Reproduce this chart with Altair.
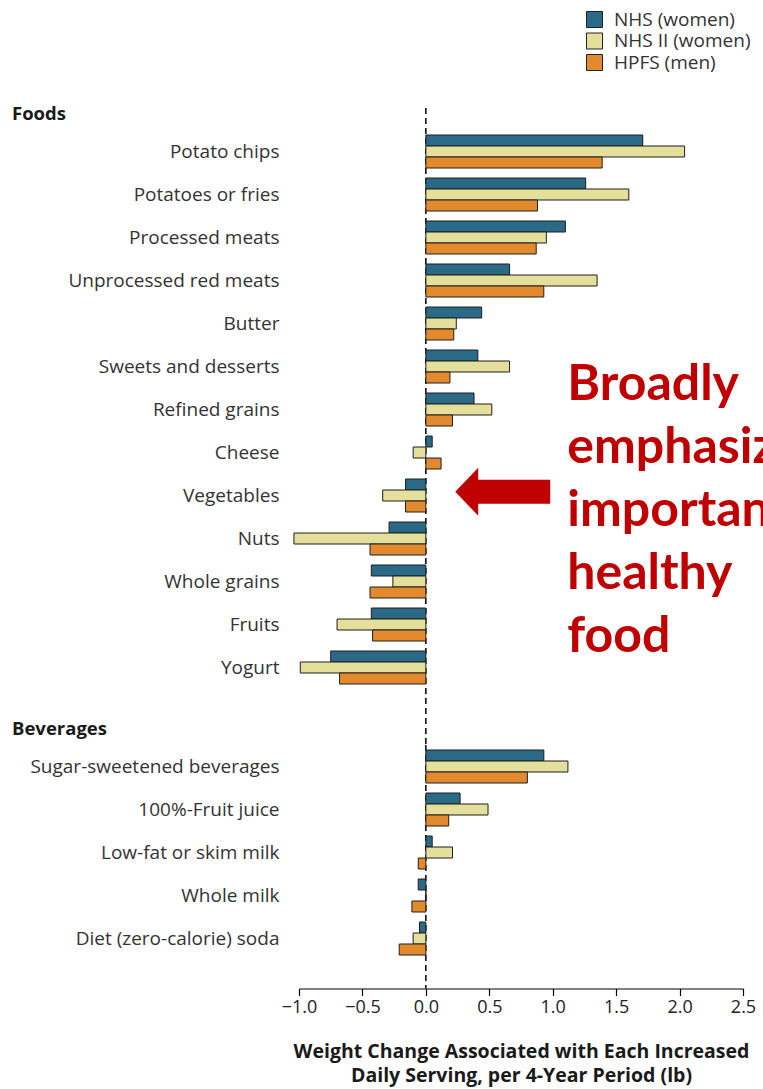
import altair as alt
import pandas as pd

# Cohorts and their bar colours
series = ["NHS (women)", "NHS II (women)", "HPFS (men)"]
colors = ["#2b6a87", "#e5df9c", "#e38a2f"]

# Foods: weight change (lb) per increased daily serving, per 4-year period
foods = ["Potato chips", "Potatoes or fries", "Processed meats", "Unprocessed red meats",
         "Butter", "Sweets and desserts", "Refined grains", "Cheese", "Vegetables",
         "Nuts", "Whole grains", "Fruits", "Yogurt"]
foods_nhs = [1.71, 1.26, 1.10, 0.66, 0.44, 0.41, 0.38, 0.05, -0.16, -0.29, -0.43, -0.43, -0.75]
foods_nhs2 = [2.04, 1.60, 0.95, 1.35, 0.24, 0.66, 0.52, -0.10, -0.34, -1.04, -0.26, -0.70, -0.99]
foods_hpfs = [1.39, 0.88, 0.87, 0.93, 0.22, 0.19, 0.21, 0.12, -0.16, -0.44, -0.44, -0.42, -0.68]

# Beverages
beverages = ["Sugar-sweetened beverages", "100%-Fruit juice", "Low-fat or skim milk",
             "Whole milk", "Diet (zero-calorie) soda"]
bev_nhs = [0.93, 0.27, 0.05, -0.06, -0.05]
bev_nhs2 = [1.12, 0.49, 0.21, 0.00, -0.10]
bev_hpfs = [0.80, 0.18, -0.06, -0.11, -0.21]

x_ticks = [-1.0, -0.5, 0.0, 0.5, 1.0, 1.5, 2.0, 2.5]
x_title = ["Weight Change Associated with Each Increased",
           "Daily Serving, per 4-Year Period (lb)"]
note_lines = ["Broadly", "emphasized", "important", "healthy", "food"]

FONT = "Open Sans"
STEP = 43          # pixels per row
PX_PER_LB = 126.8  # horizontal scale shared by both panels
X_MIN, X_MAX = -1.0, 2.5
FOODS_X_MAX = 2.658  # the foods panel runs a little further right to hold the note


def long_table(items, a, b, c):
    rows = []
    for i, item in enumerate(items):
        for s, vals in zip(series, (a, b, c)):
            rows.append({"item": item, "series": s, "change": vals[i]})
    return pd.DataFrame(rows)


color_enc = alt.Color(
    "series:N",
    scale=alt.Scale(domain=series, range=colors),
    legend=alt.Legend(
        title=None, orient="none", legendX=286, legendY=-120,
        symbolType="square", symbolSize=256, symbolStrokeColor="#222",
        symbolStrokeWidth=1, symbolOpacity=1, labelFont=FONT, labelFontSize=19,
        labelColor="#333", labelOffset=10, rowPadding=0.5,
    ),
)


def x_enc(axis, x_max):
    return alt.X("change:Q", scale=alt.Scale(domain=[X_MIN, x_max], nice=False), axis=axis)


def y_enc(items):
    return alt.Y(
        "item:N", sort=items,
        scale=alt.Scale(paddingInner=10 / STEP, paddingOuter=5 / STEP),
        axis=alt.Axis(title=None, domain=False, ticks=False, labelFont=FONT,
                      labelFontSize=19, labelColor="#333", labelPadding=20,
                      labelLimit=400),
    )


def panel(df, items, header, title_offset, x_axis, x_max, rule_top, rule_bottom, extra=()):
    height = STEP * len(items)
    width = round((x_max - X_MIN) * PX_PER_LB)
    rule = alt.Chart(pd.DataFrame({"change": [0.0]})).mark_rule(
        color="black", strokeWidth=1.5, strokeDash=[6, 4]
    ).encode(x=x_enc(x_axis, x_max), y=alt.value(rule_top), y2=alt.value(rule_bottom))
    bars = alt.Chart(df).mark_bar(stroke="#1e1e1e", strokeWidth=1, opacity=1).encode(
        x=x_enc(x_axis, x_max),
        y=y_enc(items),
        yOffset=alt.YOffset("series:N", sort=series,
                            scale=alt.Scale(paddingInner=0, paddingOuter=0)),
        color=color_enc,
    )
    return alt.layer(rule, bars, *[e(x_max) for e in extra]).properties(
        width=width, height=height,
        title=alt.TitleParams(header, anchor="start", frame="group", dx=-287,
                              offset=title_offset, font=FONT, fontSize=18.5,
                              fontWeight="bold", color="#1a1a1a"),
    )


# Red call-out: arrow pointing at the vegetable bars plus the note text
arrow_path = "M -1 -0.08 L -0.516 -0.585 L -0.516 -0.333 L 1 -0.333 L 1 0.173 L -0.516 0.173 L -0.516 0.425 Z"


def arrow(x_max):
    return alt.Chart(pd.DataFrame({"item": ["Vegetables"], "change": [0.606]})).mark_point(
        shape=arrow_path, filled=True, size=9025, color="#c00000", opacity=1, strokeWidth=0
    ).encode(x=x_enc(None, x_max), y=y_enc(foods))


def note(x_max):
    return alt.Chart(pd.DataFrame({"item": ["Sweets and desserts"], "change": [1.115]})).mark_text(
        text=note_lines, align="left", baseline="alphabetic", dy=33, lineHeight=63,
        font="Lato", fontSize=50, fontWeight="bold", color="#c00000", clip=True,
    ).encode(x=x_enc(None, x_max), y=y_enc(foods))


foods_chart = panel(long_table(foods, foods_nhs, foods_nhs2, foods_hpfs), foods, "Foods", -16,
                    None, FOODS_X_MAX, -22, STEP * len(foods) + 56, extra=(arrow, note))

bev_axis = alt.Axis(
    values=x_ticks, format=".1f", grid=False, offset=28.5, labelFlush=False,
    domainColor="black", domainWidth=1.2, tickColor="black", tickSize=7, tickWidth=1.2,
    labelFont=FONT, labelFontSize=18, labelColor="#222", labelPadding=3,
    title=x_title, titleFont=FONT, titleFontSize=19.5, titleFontWeight="bold",
    titleColor="#1a1a1a", titleLineHeight=23.5, titlePadding=26,
)
bev_chart = panel(long_table(beverages, bev_nhs, bev_nhs2, bev_hpfs), beverages, "Beverages", 6,
                  bev_axis, X_MAX, 0, STEP * len(beverages) + 28.5)

chart = alt.vconcat(foods_chart, bev_chart, spacing=56, bounds="flush").resolve_scale(
    color="shared"
).properties(
    padding={"left": 12, "top": 10, "right": 0, "bottom": 4},
    background="white",
).configure_view(stroke=None)

chart.save("out.html", embed_options={"renderer": "svg", "actions": False})
